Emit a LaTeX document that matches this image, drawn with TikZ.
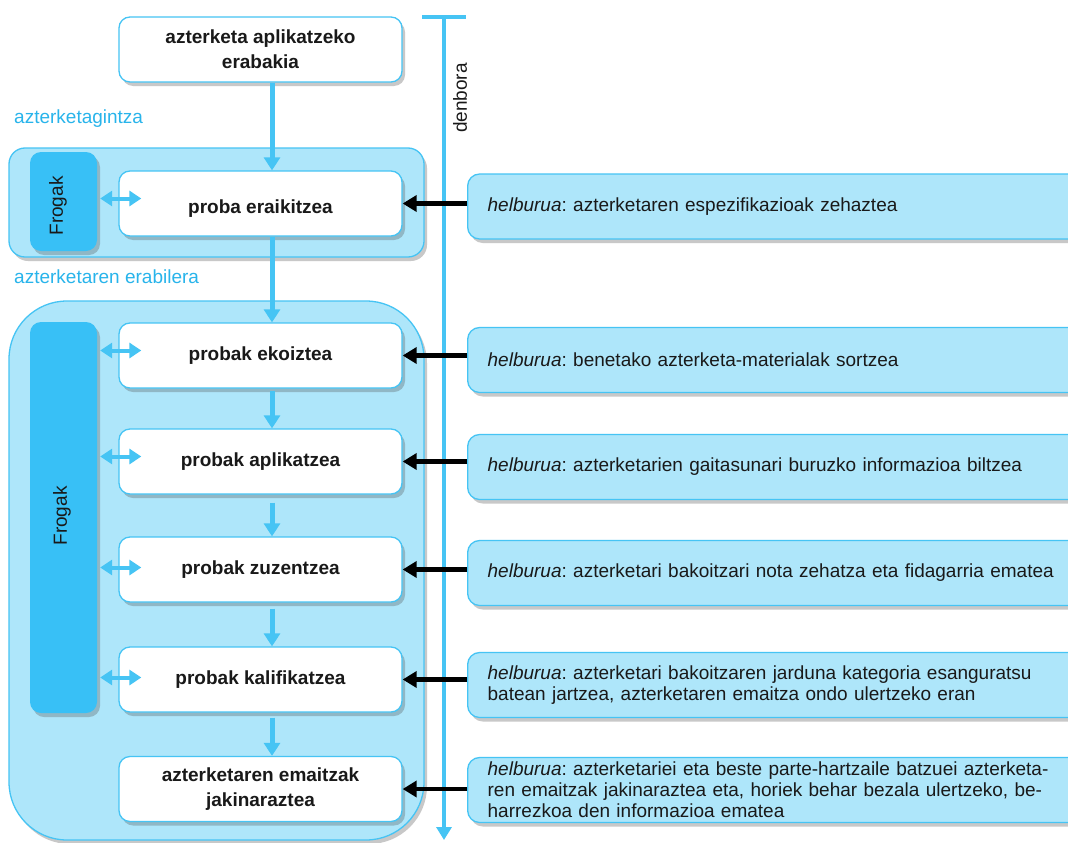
\documentclass[tikz,border=0pt]{standalone}
\usepackage{fontspec}
\setmainfont{Liberation Sans}
\usetikzlibrary{arrows.meta,shadows,calc}
\definecolor{lb}{RGB}{174,230,250}
\definecolor{sb}{RGB}{70,196,244}
\definecolor{db}{RGB}{56,192,246}
\definecolor{tb}{RGB}{40,180,235}
\definecolor{tx}{RGB}{25,25,25}
\frenchspacing
\begin{document}
\begin{tikzpicture}[x=1pt,y=-1pt,
  shad/.style={drop shadow={shadow xshift=3pt,shadow yshift=-4pt,opacity=0.3,fill=black!70}},
  grp/.style={draw=sb,line width=1.3pt,fill=lb,shad,minimum width=415pt},
  frogbox/.style={fill=db,rounded corners=11pt,shad,minimum width=67pt,text=tx,
    font=\fontsize{19}{21}\selectfont},
  wbox/.style={draw=sb,line width=1.3pt,fill=white,rounded corners=11pt,shad,
    minimum width=283pt,minimum height=65pt,align=center,text=tx,
    font=\bfseries\fontsize{19}{25}\selectfont},
  rbox/.style={draw=sb,line width=1.3pt,fill=lb,rounded corners=12pt,shad,
    anchor=west,text width=576pt,inner xsep=20pt,minimum height=65pt,align=left,text=tx,
    font=\fontsize{19}{21}\selectfont},
  lab/.style={text=tb,anchor=west,inner sep=0pt,font=\fontsize{19}{21}\selectfont},
  varrow/.style={draw=sb,line width=5pt,-{Triangle[length=13pt,width=16pt]}},
  darrow/.style={draw=sb,line width=4pt,{Triangle[length=12pt,width=15pt]}-{Triangle[length=12pt,width=15pt]}},
  barrow/.style={draw=black,line width=4.5pt,-{Triangle[length=14pt,width=16pt]}},
  tline/.style={draw=sb,line width=4.5pt},
]
\path[use as bounding box] (0,0) rectangle (1068,843);
\clip (0,0) rectangle (1068,843);
\fill[white] (0,0) rectangle (1068,843);

% group boxes
\node[grp,minimum height=109pt,rounded corners=16pt] (g1) at (216.5,202.5) {};
\node[grp,minimum height=539pt,rounded corners=58pt] (g2) at (216.5,570.5) {};

\node[lab] (l1) at (14,119) {azterketagintza};
\node[lab] (l2) at (14,277) {azterketaren erabilera};

% Frogak boxes
\node[frogbox,minimum height=99pt] (f1) at (63.5,201.5) {};
\node[rotate=90,text=tx,font=\fontsize{19}{21}\selectfont] (f1t) at (58,206) {Frogak};
\node[frogbox,minimum height=391pt] (f2) at (63.5,517.5) {};
\node[rotate=90,text=tx,font=\fontsize{19}{21}\selectfont] (f2t) at (62,516) {Frogak};

% white boxes
\node[wbox] (w0) at (260.5,49.5) {azterketa aplikatzeko\\erabakia};
\node[wbox] (w1) at (260.5,203.5) {\raisebox{-10pt}[0pt][0pt]{proba eraikitzea}};
\node[wbox] (w2) at (260.5,355.5) {probak ekoiztea};
\node[wbox] (w3) at (260.5,461.5) {probak aplikatzea};
\node[wbox] (w4) at (260.5,569.5) {probak zuzentzea};
\node[wbox] (w5) at (260.5,679.5) {probak kalifikatzea};
\node[wbox] (w6) at (260.5,789) {azterketaren emaitzak\\jakinaraztea};

% vertical flow arrows
\coordinate (ax) at (272,0);
\draw[varrow] (w0.south -| ax) -- (w1.north -| ax);
\draw[varrow] (w1.south -| ax) -- (w2.north -| ax);
\draw[varrow] ($(w2.south -| ax)+(0,2)$) -- (w3.north -| ax);
\draw[varrow] ($(w3.south -| ax)+(0,8)$) -- (w4.north -| ax);
\draw[varrow] ($(w4.south -| ax)+(0,6)$) -- (w5.north -| ax);
\draw[varrow] ($(w5.south -| ax)+(0,5)$) -- (w6.north -| ax);

% double arrows
\draw[darrow] ($(f1.east |- w1.west)+(3,-5)$) -- ($(w1.west)+(23,-5)$);
\draw[darrow] ($(f2.east |- w2.west)+(3,-5)$) -- ($(w2.west)+(23,-5)$);
\draw[darrow] ($(f2.east |- w3.west)+(3,-5)$) -- ($(w3.west)+(23,-5)$);
\draw[darrow] ($(f2.east |- w4.west)+(3,-2)$) -- ($(w4.west)+(23,-2)$);
\draw[darrow] ($(f2.east |- w5.west)+(3,-2)$) -- ($(w5.west)+(23,-2)$);

% timeline
\coordinate (tt) at (444,17);
\coordinate (tb) at (444,840);
\coordinate (tl) at (422,17);
\coordinate (tr) at (466,17);
\draw[tline] (tl) -- (tr);
\draw[tline,-{Triangle[length=13pt,width=15pt]}] (tt) -- (tb);
\node[rotate=90,text=tx,font=\fontsize{19}{21}\selectfont] (den) at (460,98) {denbora};

% right boxes
\node[rbox] (r1) at (467,206.5) {\textit{helburua}: azterketaren espezifikazioak zehaztea};
\node[rbox] (r2) at (467,360) {\textit{helburua}: benetako azterketa-materialak sortzea};
\node[rbox] (r3) at (467,467) {\textit{helburua}: azterketarien gaitasunari buruzko informazioa biltzea};
\node[rbox] (r4) at (467,573) {\textit{helburua}: azterketari bakoitzari nota zehatza eta fidagarria ematea};
\node[rbox] (r5) at (467,685) {\makebox[576pt][s]{\textit{helburua}: azterketari bakoitzaren jarduna kategoria esanguratsu}\\batean jartzea, azterketaren emaitza ondo ulertzeko eran};
\node[rbox] (r6) at (467,790) {\makebox[576pt][s]{\textit{helburua}: azterketariei eta beste parte-hartzaile batzuei azterketa-}\\\makebox[576pt][s]{ren emaitzak jakinaraztea eta, horiek behar bezala ulertzeko, be-}\\harrezkoa den informazioa ematea};

% black arrows
\draw[barrow] (r1.west |- w1.east) -- (w1.east);
\draw[barrow] (r2.west |- w2.east) -- (w2.east);
\draw[barrow] (r3.west |- w3.east) -- (w3.east);
\draw[barrow] (r4.west |- w4.east) -- (w4.east);
\draw[barrow] (r5.west |- w5.east) -- (w5.east);
\draw[barrow] (r6.west |- w6.east) -- (w6.east);
\end{tikzpicture}
\end{document}
